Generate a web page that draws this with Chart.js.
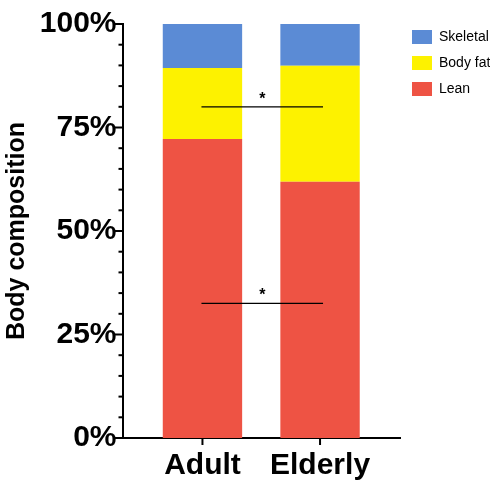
<!DOCTYPE html>
<html><head><meta charset="utf-8">
<script src="https://cdn.jsdelivr.net/npm/chart.js@4"></script>
<style>html,body{margin:0;padding:0;background:#fff}#w{width:490px;height:496px}</style>
</head><body><div id="w"><canvas id="c"></canvas></div>
<script>
const categories = ['Adult', 'Elderly'];
const lean = [72.2, 61.9];
const bodyFat = [17.2, 28.0];
const skeletal = [10.6, 10.1];
const yTicks = [0, 25, 50, 75, 100];
const sigLevels = [80, 32.5];

const toPts = arr => arr.map((v, i) => ({x: i, y: v}));
const F = 'Liberation Sans, Arial, sans-serif';

const extras = {
  id: 'extras',
  afterDraw(chart) {
    const ctx = chart.ctx, x = chart.scales.x, y = chart.scales.y;
    ctx.save();
    ctx.strokeStyle = '#000'; ctx.lineWidth = 2;
    for (let v = 0; v <= 100; v += 5) {
      const py = y.getPixelForValue(v);
      const len = v % 25 === 0 ? 8 : 4;
      ctx.beginPath(); ctx.moveTo(x.left - len, py); ctx.lineTo(x.left, py); ctx.stroke();
    }
    categories.forEach((c, i) => {
      const px = x.getPixelForValue(i);
      ctx.beginPath(); ctx.moveTo(px, y.bottom); ctx.lineTo(px, y.bottom + 7); ctx.stroke();
    });
    ctx.lineWidth = 1.3;
    ctx.fillStyle = '#000'; ctx.font = 'bold 16px ' + F; ctx.textAlign = 'center';
    sigLevels.forEach(v => {
      const py = y.getPixelForValue(v);
      const x0 = x.getPixelForValue(0) - 1, x1 = x.getPixelForValue(1) + 3;
      ctx.beginPath(); ctx.moveTo(x0, py); ctx.lineTo(x1, py); ctx.stroke();
      ctx.fillText('*', (x0 + x1) / 2, py - 3);
    });
    ctx.restore();
  }
};

new Chart(document.getElementById('c'), {
  type: 'bar',
  data: {
    datasets: [
      {label: 'Lean', data: toPts(lean), backgroundColor: '#ee5344'},
      {label: 'Body fat', data: toPts(bodyFat), backgroundColor: '#fdf200'},
      {label: 'Skeletal', data: toPts(skeletal), backgroundColor: '#5b8bd5'}
    ]
  },
  options: {
    responsive: true, maintainAspectRatio: false, animation: false,
    layout: {padding: {top: 18, right: 0, bottom: 2, left: 0}},
    datasets: {bar: {barPercentage: 0.675, categoryPercentage: 1, borderWidth: 0}},
    scales: {
      x: {
        type: 'linear', stacked: true, min: -0.68, max: 1.68, offset: false,
        afterBuildTicks: s => { s.ticks = categories.map((c, i) => ({value: i})); },
        grid: {display: false, drawTicks: false},
        border: {color: '#000', width: 2},
        ticks: {callback: (v) => categories[v], color: '#000', padding: 10,
                font: {family: F, size: 30, weight: 'bold'}}
      },
      y: {
        stacked: true, min: 0, max: 100,
        afterBuildTicks: s => { s.ticks = yTicks.map(v => ({value: v})); },
        grid: {display: false, drawTicks: false},
        border: {color: '#000', width: 2},
        ticks: {callback: v => v + '%', color: '#000', padding: 6,
                font: {family: F, size: 30, weight: 'bold'}},
        title: {display: true, text: 'Body composition', color: '#000', padding: 2,
                font: {family: F, size: 25, weight: 'bold'}}
      }
    },
    plugins: {
      tooltip: {enabled: false},
      legend: {
        position: 'right', align: 'start', reverse: true, maxWidth: 90,
        labels: {boxWidth: 20, boxHeight: 14, padding: 12, color: '#000',
                 font: {family: F, size: 14}}
      }
    }
  },
  plugins: [extras]
});
</script></body></html>
